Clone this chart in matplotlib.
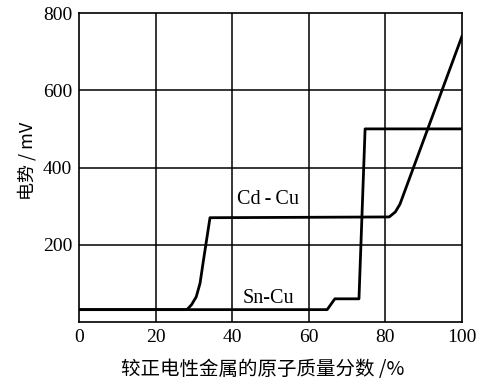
import matplotlib.pyplot as plt

plt.rcParams["font.family"] = ["Liberation Serif", "Noto Sans CJK SC"]

# Cd-Cu potential curve (mV vs atomic fraction %)
cd_x = [0, 28.2, 29.4, 30.6, 31.6, 32.5, 34.2, 81.0, 82.6, 83.8, 100]
cd_y = [32, 32, 45, 65, 100, 160, 270, 272, 285, 305, 740]

# Sn-Cu potential curve
sn_x = [0, 64.8, 66.8, 73.1, 74.7, 100]
sn_y = [32, 32, 60, 60, 500, 500]

x_ticks = [0, 20, 40, 60, 80, 100]
y_ticks = [200, 400, 600, 800]

fig = plt.figure(figsize=(4.78, 3.83), dpi=100)
ax = fig.add_axes([0.1653, 0.1593, 0.8012, 0.8067])

ax.set_xlim(0, 100)
ax.set_ylim(0, 800)
for v in x_ticks[1:-1]:
    ax.axvline(v, color="black", lw=1.1, zorder=1)
for v in y_ticks[:-1]:
    ax.axhline(v, color="black", lw=1.1, zorder=1)

ax.plot(cd_x, cd_y, color="black", lw=2.0, zorder=3, solid_joinstyle="round")
ax.plot(sn_x, sn_y, color="black", lw=2.0, zorder=3, solid_joinstyle="round")

ax.text(41.3, 318, "Cd\u2009-\u2009Cu", fontsize=14.5, va="center", ha="left",
        family="Liberation Serif", zorder=4)
ax.text(42.6, 62, "Sn-Cu", fontsize=14.5, va="center", ha="left",
        family="Liberation Serif", zorder=4)

ax.set_xticks(x_ticks)
ax.set_yticks(y_ticks)
ax.tick_params(length=0, labelsize=14, pad=5)
for s in ax.spines.values():
    s.set_linewidth(1.2)

ax.set_xlabel("较正电性金属的原子质量分数 /%", fontsize=14,
              family=["Noto Sans CJK SC", "Liberation Serif"])
ax.xaxis.set_label_coords(0.48, -0.12)
ax.set_ylabel("电势 / mV", fontsize=13,
              family=["Noto Sans CJK SC", "Liberation Serif"])
ax.yaxis.set_label_coords(-0.112, 0.52)

fig.savefig("out.png", dpi=100)
